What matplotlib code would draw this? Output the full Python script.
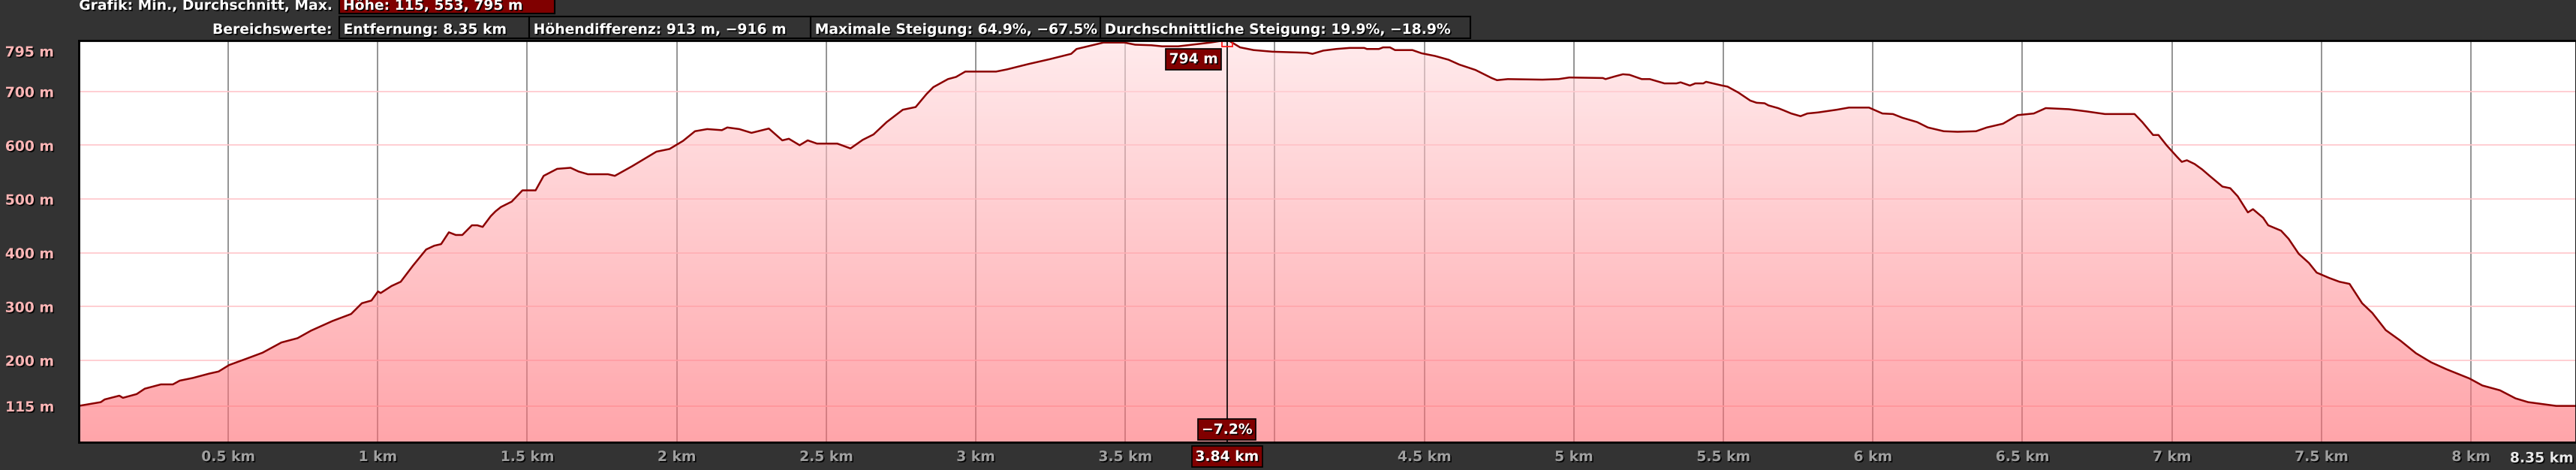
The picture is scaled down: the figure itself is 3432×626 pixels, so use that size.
import matplotlib
matplotlib.use("Agg")
import matplotlib.pyplot as plt
import matplotlib.patheffects as pe
import matplotlib.transforms as mtransforms
from matplotlib.patches import Rectangle, Polygon
import numpy as np

# elevation profile
distance_km = [
    0.000, 0.074, 0.087, 0.136, 0.148, 0.194, 0.221, 0.275, 0.315, 0.338,
    0.382, 0.436, 0.468, 0.503, 0.562, 0.615, 0.678, 0.732, 0.777, 0.849,
    0.911, 0.947, 0.979, 1.001, 1.010, 1.046, 1.077, 1.118, 1.162, 1.189,
    1.212, 1.238, 1.261, 1.283, 1.315, 1.333, 1.351, 1.378, 1.394,
    1.412, 1.448, 1.484, 1.528, 1.555, 1.600, 1.645, 1.672, 1.703, 1.770,
    1.793, 1.851, 1.932, 1.976, 2.021, 2.061, 2.102, 2.151, 2.169, 2.209,
    2.250, 2.308, 2.353, 2.375, 2.411, 2.438, 2.469, 2.537, 2.581, 2.622,
    2.658, 2.702, 2.756, 2.799,
    2.835, 2.858, 2.907, 2.934, 2.965, 3.068, 3.104, 3.176, 3.247, 3.319,
    3.337, 3.382, 3.427, 3.497, 3.533, 3.587, 3.623, 3.677, 3.785, 3.830,
    3.848, 3.884, 3.929, 3.992, 4.108, 4.126, 4.162, 4.205,
    4.250, 4.299, 4.308, 4.348, 4.362, 4.385, 4.402, 4.460, 4.491, 4.536,
    4.581, 4.617, 4.671, 4.725, 4.743, 4.779, 4.895, 4.949, 4.985, 5.097,
    5.106, 5.137, 5.164, 5.186, 5.227, 5.254, 5.303, 5.343, 5.357, 5.388,
    5.406, 5.433, 5.442, 5.496, 5.514, 5.550, 5.590, 5.611,
    5.638, 5.651, 5.683, 5.701, 5.727, 5.758, 5.781, 5.817, 5.879, 5.920,
    5.987, 6.032, 6.067, 6.099, 6.148, 6.184, 6.237, 6.283, 6.345, 6.381,
    6.435, 6.484, 6.538, 6.578, 6.655, 6.713, 6.776, 6.848, 6.875, 6.901,
    6.937, 6.955, 6.982, 7.016,
    7.033, 7.050, 7.076, 7.101, 7.126, 7.169, 7.195, 7.220, 7.254, 7.271,
    7.305, 7.322, 7.365, 7.390, 7.424, 7.458, 7.484, 7.526, 7.560, 7.594,
    7.636, 7.670, 7.715, 7.765, 7.816, 7.867, 7.919, 7.995, 8.038, 8.097,
    8.149, 8.191, 8.285, 8.350,
]
elevation_m = [
    115, 122, 127, 134, 130, 137, 147, 155, 155, 162,
    167, 175, 179, 191, 203, 214, 233, 241, 255, 273,
    286, 306, 311, 328, 325, 338, 346, 376, 406, 413,
    416, 438, 433, 433, 451, 451, 448, 468, 477,
    485, 495, 516, 516, 543, 556, 558, 551, 546, 546,
    543, 561, 588, 593, 608, 626, 630, 628, 633, 630,
    623, 631, 609, 612, 600, 609, 603, 603, 594, 610,
    620, 643, 666, 671,
    695, 708, 723, 727, 737, 737, 741, 751, 760, 770,
    779, 785, 791, 791, 787, 786, 784, 784, 791, 795,
    794, 782, 777, 774, 772, 770, 776, 779,
    781, 781, 779, 779, 782, 782, 777, 777, 771, 766,
    759, 750, 740, 725, 721, 723, 722, 723, 726, 725,
    723, 728, 732, 731, 723, 723, 715, 715, 717, 711,
    715, 715, 718, 711, 709, 698, 683, 679,
    678, 674, 669, 665, 659, 654, 659, 661, 666, 670,
    670, 659, 658, 651, 643, 633, 626, 625, 626, 633,
    640, 656, 659, 669, 667, 663, 658, 658, 658, 643,
    619, 619, 600, 579,
    569, 572, 565, 555, 543, 523, 520, 505, 475, 481,
    465, 451, 441, 426, 398, 381, 363, 353, 346, 342,
    306, 288, 256, 236, 213, 196, 183, 166, 153, 144,
    129, 122, 115, 115,
]

x_ticks = [0.5, 1, 1.5, 2, 2.5, 3, 3.5, 4, 4.5, 5, 5.5, 6, 6.5, 7, 7.5, 8]
x_tick_labels = ["0.5 km", "1 km", "1.5 km", "2 km", "2.5 km", "3 km", "3.5 km", "4 km",
                 "4.5 km", "5 km", "5.5 km", "6 km", "6.5 km", "7 km", "7.5 km", "8 km"]
y_ticks = [115, 200, 300, 400, 500, 600, 700, 795]
total_km = 8.35

cursor_km = 3.84
cursor_elev = 794
cursor_grade = "\u22127.2%"

row1_label = "Grafik: Min., Durchschnitt, Max."
row1_value = "Höhe: 115, 553, 795 m"
row2_label = "Bereichswerte:"
row2_values = ["Entfernung: 8.35 km", "Höhendifferenz: 913 m, \u2212916 m",
               "Maximale Steigung: 64.9%, \u221267.5%",
               "Durchschnittliche Steigung: 19.9%, \u221218.9%"]

W, H = 3432, 626
BG = "#333333"
DARKRED = "#800000"
FS = 13.5
shadow = [pe.withSimplePatchShadow(offset=(1.2, -1.2), shadow_rgbFace="black", alpha=0.9)]

plt.rcParams["font.family"] = ["DejaVu Sans"]
plt.rcParams["font.weight"] = "bold"

fig = plt.figure(figsize=(W / 100, H / 100), dpi=100, facecolor=BG)
ax = fig.add_axes([104.8 / W, (H - 589.3) / H, (3431.5 - 104.8) / W, (589.3 - 53.8) / H])
ax.set_facecolor("white")
ymin, ymax = 47, 795
ax.set_xlim(0, total_km)
ax.set_ylim(ymin, ymax)

# tick labels that would sit under the cursor box are hidden
shown_labels = [lbl if abs(x - cursor_km) > 0.2 else "" for x, lbl in zip(x_ticks, x_tick_labels)]

# grid (below the translucent fill)
ax.set_axisbelow(True)
ax.set_xticks(x_ticks, shown_labels)
ax.set_yticks(y_ticks[:-1])
ax.set_yticklabels([])
ax.grid(axis="x", color="#808080", lw=1.2)
ax.grid(axis="y", color="#ffc6cb", lw=1.2)
ax.tick_params(axis="both", length=0)
ax.tick_params(axis="x", pad=7, labelsize=FS, labelcolor="#a0a0a0")
for lbl in ax.get_xticklabels():
    lbl.set_fontweight("bold")
    lbl.set_path_effects(shadow)

# gradient fill under the profile
t = np.linspace(0, 1, 256)[:, None, None]
top = np.array([255, 222, 225]) / 255
bot = np.array([255, 105, 113]) / 255
grad = top + (bot - top) * t
im = ax.imshow(grad, extent=[0, total_km, ymin, ymax], aspect="auto", alpha=0.6, zorder=2)
verts = [(0, ymin)] + list(zip(distance_km, elevation_m)) + [(total_km, ymin)]
poly = Polygon(verts, closed=True, facecolor="none", edgecolor="none", transform=ax.transData)
ax.add_patch(poly)
im.set_clip_path(poly)

ax.plot(distance_km, elevation_m, color="#8b0000", lw=1.8, zorder=4)

for side in ["left", "bottom", "top", "right"]:
    ax.spines[side].set_color("black")
    ax.spines[side].set_linewidth(2)
    ax.spines[side].set_zorder(8)

# y labels
ylab_tr = mtransforms.blended_transform_factory(ax.transAxes, ax.transData)
for v in y_ticks:
    dy = -16 if v == ymax else -2
    ax.text(0, v, f"{v} m", transform=mtransforms.offset_copy(ylab_tr, fig, x=-33, y=dy, units="dots"),
            ha="right", va="center", fontsize=FS, fontweight="bold", color="#ffb6b6",
            path_effects=shadow, clip_on=False)

ax.text(1, 0, f"{total_km} km", transform=mtransforms.offset_copy(ax.transAxes, fig, x=-3, y=-21, units="dots"),
        ha="right", va="center", fontsize=FS, fontweight="bold", color="#e8e8e8",
        path_effects=shadow, clip_on=False)

# cursor
ax.axvline(cursor_km, color="black", lw=1.2, zorder=5)
ax.plot([cursor_km], [cursor_elev], marker="s", ms=9.5, mfc="none", mec="#ff1a1a", mew=1.3, zorder=6)
box = dict(boxstyle="square,pad=0.25", fc=DARKRED, ec="black", lw=1.2)
cx_top = mtransforms.blended_transform_factory(ax.transData, ax.transAxes)
ax.text(cursor_km, 1, f"{cursor_elev} m",
        transform=mtransforms.offset_copy(cx_top, fig, x=-12, y=-25, units="dots"),
        ha="right", va="center", fontsize=FS, color="white", bbox=box, path_effects=shadow, zorder=9)
ax.text(cursor_km, 0, cursor_grade,
        transform=mtransforms.offset_copy(cx_top, fig, x=0, y=17, units="dots"),
        ha="center", va="center", fontsize=FS, color="white", bbox=box, path_effects=shadow, zorder=9)
ax.text(cursor_km, 0, f"{cursor_km} km",
        transform=mtransforms.offset_copy(cx_top, fig, x=0, y=-19, units="dots"),
        ha="center", va="center", fontsize=FS, color="white", bbox=box, path_effects=shadow,
        zorder=9, clip_on=False)

# header rows in pixel coordinates
ov = fig.add_axes([0, 0, 1, 1], zorder=10)
ov.set_xlim(0, W)
ov.set_ylim(H, 0)
ov.axis("off")

ov.text(443, 13, row1_label, ha="right", va="baseline", fontsize=FS, color="white", path_effects=shadow)
ov.add_patch(Rectangle((451.5, -5), 287, 23, fc=DARKRED, ec="black", lw=1.5))
ov.text(457, 13, row1_value, ha="left", va="baseline", fontsize=FS, color="white", path_effects=shadow)

ov.text(443, 45, row2_label, ha="right", va="baseline", fontsize=FS, color="white", path_effects=shadow)
edges = [451.5, 704.7, 1079.7, 1465.6, 1958.5]
for i, txt in enumerate(row2_values):
    ov.add_patch(Rectangle((edges[i], 21.7), edges[i + 1] - edges[i], 29, fc=BG, ec="black", lw=1.5))
    ov.text(edges[i] + 6, 45, txt, ha="left", va="baseline", fontsize=FS, color="white", path_effects=shadow)

fig.savefig("out.png", dpi=100, facecolor=BG)
